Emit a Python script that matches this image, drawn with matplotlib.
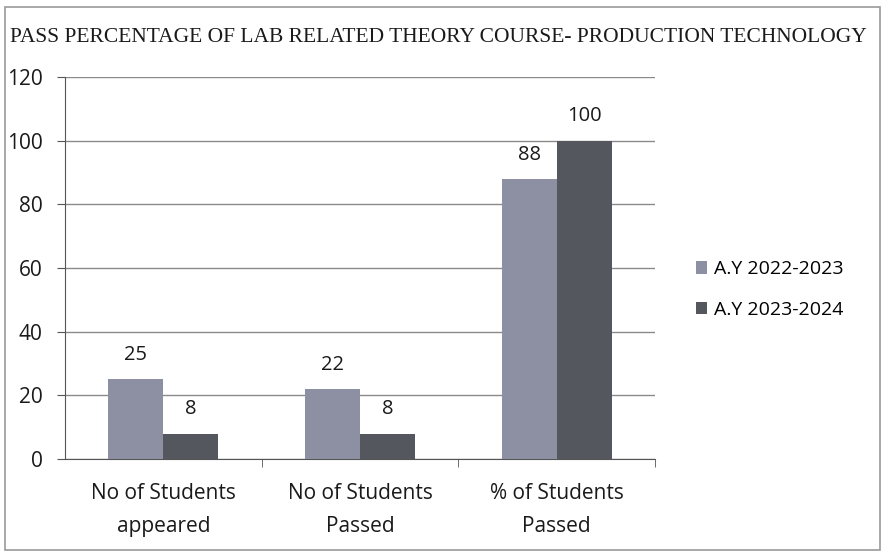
import matplotlib.pyplot as plt
import numpy as np
from matplotlib.patches import Rectangle

# chart data
categories = ['No of Students\nappeared', 'No of Students\nPassed', '% of Students\nPassed']
series_names = ['A.Y 2022-2023', 'A.Y 2023-2024']
values_2223 = [25, 22, 88]
values_2324 = [8, 8, 100]
yticks = [0, 20, 40, 60, 80, 100, 120]

color_2223 = '#8c90a2'
color_2324 = '#55575f'

fig = plt.figure(figsize=(8.85, 5.55), dpi=100)
ax = fig.add_axes([65 / 885, 1 - 459 / 555, 590 / 885, 382 / 555])

# outer frame like a chart border
fig.patches.append(Rectangle((5 / 885, 5 / 555), 875 / 885, 543 / 555,
                             transform=fig.transFigure, fill=False,
                             edgecolor='#9a9a9a', linewidth=1.2))

x = np.arange(len(categories))
w = 0.28
b1 = ax.bar(x - w / 2, values_2223, w, color=color_2223, label=series_names[0], zorder=3)
b2 = ax.bar(x + w / 2, values_2324, w, color=color_2324, label=series_names[1], zorder=3)

for bars, vals in ((b1, values_2223), (b2, values_2324)):
    for rect, v in zip(bars, vals):
        ax.text(rect.get_x() + rect.get_width() / 2, v + 4.5, str(v),
                ha='center', va='bottom', fontsize=14.5, family='Open Sans',
                color='#1a1a1a')

ax.set_xlim(-0.5, 2.5)
ax.set_ylim(0, 120)
ax.set_yticks(yticks)
ax.set_yticklabels([str(t) for t in yticks], fontsize=15, family='Open Sans', color='#1a1a1a')
ax.yaxis.grid(True, color='#8a8a8a', linewidth=1.0, zorder=0)
ax.set_axisbelow(True)

ax.set_xticks(x)
ax.set_xticklabels(categories, fontsize=15, family='Open Sans', color='#1a1a1a', linespacing=1.75)
ax.tick_params(axis='x', length=0, pad=17)
ax.set_xticks([0.5, 1.5, 2.5], minor=True)
ax.tick_params(axis='x', which='minor', length=6, color='#555555')
ax.tick_params(axis='y', length=6, color='#555555', pad=10)

for s in ('top', 'right'):
    ax.spines[s].set_visible(False)
ax.spines['left'].set_color('#555555')
ax.spines['bottom'].set_color('#555555')

fig.text(10 / 885, 1 - 38 / 555, 'PASS PERCENTAGE OF LAB RELATED THEORY COURSE- PRODUCTION TECHNOLOGY',
         ha='left', va='center', fontsize=15.5, family='Liberation Serif', color='#1a1a1a')

fig.legend(handles=[b1, b2], loc='upper left', bbox_to_anchor=(678 / 885, 1 - 243 / 555),
           frameon=False, prop={'family': 'Open Sans', 'size': 14},
           handlelength=0.6, handleheight=0.6, handletextpad=0.35, labelspacing=1.15)

fig.savefig('out.png', dpi=100)
